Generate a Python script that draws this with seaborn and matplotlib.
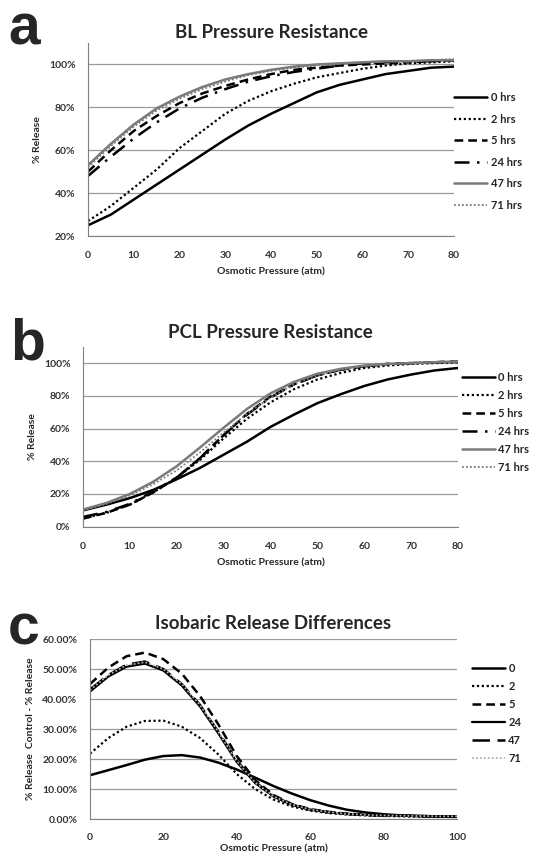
import numpy as np
import pandas as pd
import matplotlib
matplotlib.use("Agg")
import matplotlib.pyplot as plt
from matplotlib.ticker import FuncFormatter, MultipleLocator
import seaborn as sns

# ---------------- data ----------------
x_ab = [0, 5, 10, 15, 20, 25, 30, 35, 40, 45, 50, 55, 60, 65, 70, 75, 80]
x_c = [0, 5, 10, 15, 20, 25, 30, 35, 40, 45, 50, 55, 60, 65, 70, 75, 80, 85, 90, 95, 100]

labels_ab = ["0 hrs", "2 hrs", "5 hrs", "24 hrs", "47 hrs", "71 hrs"]
labels_c = ["0", "2", "5", "24", "47", "71"]

bl_0 = [25, 30, 37, 44, 51, 58, 65, 71.5, 77, 82, 87, 90.5, 93, 95.5, 97, 98.5, 99]
bl_2 = [27, 34, 42.5, 51, 61, 69, 77, 83, 87.5, 91, 94, 96, 98, 99.5, 100.5, 101, 101.5]
bl_5 = [50, 60, 69, 76, 82, 86.5, 90, 93, 95.5, 97.5, 98.5, 99.5, 100, 100.5, 101, 101.5, 102]
bl_24 = [48, 57, 65.5, 73, 79.5, 84.5, 88.5, 92, 94.5, 96.5, 98, 99.5, 100.5, 101, 101.5, 101.5, 102]
bl_47 = [53, 63, 72, 79.5, 85, 89.5, 93, 95.5, 97.5, 99, 100, 100.5, 101, 101.5, 101.5, 102, 102]
bl_71 = [52, 62, 71, 78.5, 84, 88.5, 92, 95, 97, 98.5, 99.5, 100.5, 101, 101.5, 101.5, 102, 102.5]

pcl_0 = [10, 13.5, 17.5, 22.5, 29, 36, 44, 52, 61, 68.5, 75.5, 81, 86, 90, 93, 95.5, 97]
pcl_2 = [5, 8.5, 13.5, 21, 30, 41, 54, 66, 76, 84, 90, 94, 97, 98.5, 99.5, 100, 100.5]
pcl_5 = [5, 8.5, 13.5, 21, 30, 42, 56, 69, 79.5, 87, 92.5, 96, 98, 99.5, 100, 100.5, 101]
pcl_24 = [6, 9, 14, 21.5, 30, 42, 56, 68.5, 79, 87, 92.5, 96, 98, 99.5, 100, 100.5, 101]
pcl_47 = [10.5, 14.5, 20, 27.5, 37, 48.5, 60.5, 72, 81.5, 88.5, 93.5, 96.5, 98.5, 99.5, 100, 100.5, 101]
pcl_71 = [10, 14, 19, 26, 34.5, 45.5, 57.5, 69, 79, 87, 92.5, 96, 98, 99.5, 100, 100.5, 101]

iso_0 = [14.6, 16.3, 18, 19.8, 21, 21.3, 20.5, 18.8, 16.5, 13.8, 11, 8.5, 6.3, 4.5, 3.1, 2.2, 1.6, 1.2, 1.0, 0.8, 0.7]
iso_2 = [21.8, 27, 30.8, 32.7, 32.8, 30.8, 27, 21.5, 15, 10, 6.5, 4.2, 2.8, 2, 1.5, 1.2, 1, 0.9, 0.8, 0.7, 0.7]
iso_5 = [45, 50.5, 54.3, 55.5, 53.3, 48.5, 41, 31.5, 21, 13, 8, 5, 3.3, 2.4, 1.8, 1.4, 1.2, 1.1, 1.0, 0.9, 0.9]
iso_24 = [42.5, 47.5, 50.8, 51.8, 49.5, 44.5, 37.5, 28.5, 19, 12, 7.5, 4.7, 3.1, 2.2, 1.7, 1.4, 1.2, 1.1, 1.0, 0.9, 0.9]
iso_47 = [43.2, 48, 51.5, 52.5, 50, 45, 38, 29, 19.5, 12.3, 7.7, 4.8, 3.2, 2.3, 1.7, 1.4, 1.2, 1.1, 1.0, 0.9, 0.9]
iso_71 = [43, 48, 51.3, 52.3, 50, 45, 38, 29, 19.3, 12.2, 7.6, 4.8, 3.2, 2.3, 1.7, 1.4, 1.2, 1.1, 1.0, 0.9, 0.9]

# ---------------- style ----------------
sns.set_style("white")
plt.rcParams['font.family'] = ['Lato', 'DejaVu Sans']

DOT = (0, (1, 1.2))
DASH = (0, (3.5, 2))
LDD = (0, (6, 3, 1, 3))
LONG = (0, (7, 3))

styles_ab = [
    dict(color="black", lw=1.8, ls="-"),
    dict(color="black", lw=1.6, ls=DOT),
    dict(color="black", lw=1.8, ls=DASH),
    dict(color="black", lw=1.8, ls=LDD),
    dict(color="#7a7a7a", lw=1.8, ls="-"),
    dict(color="#7a7a7a", lw=1.3, ls=DOT),
]
styles_c = [
    dict(color="black", lw=1.8, ls="-"),
    dict(color="black", lw=1.6, ls=DOT),
    dict(color="black", lw=1.8, ls=DASH),
    dict(color="black", lw=1.6, ls="-"),
    dict(color="black", lw=1.8, ls=LONG),
    dict(color="#b0b0b0", lw=1.3, ls=DOT),
]

fig = plt.figure(figsize=(5.45, 8.57), dpi=100)


def draw(ax, x, series, labels, styles, title, ylabel, xstep, ymin, ymax, ystep, fmt,
         title_pad, leg_x, leg_y, leg_spacing, xpad=8, xlabelpad=5):
    for y, lab, st in zip(series, labels, styles):
        sns.lineplot(x=x, y=y, ax=ax, color=st["color"], linewidth=st["lw"],
                     linestyle=st["ls"], label=lab, legend=False)
    ax.set_xlim(x[0], x[-1])
    ax.set_ylim(ymin, ymax)
    ax.xaxis.set_major_locator(MultipleLocator(xstep))
    ax.set_yticks(np.arange(ymin, ymax + 0.001, ystep))
    ax.yaxis.set_major_formatter(FuncFormatter(fmt))
    ax.grid(axis="y", color="#9a9a9a", lw=0.9)
    ax.grid(axis="x", visible=False)
    for s in ["top", "right"]:
        ax.spines[s].set_visible(False)
    ax.spines["left"].set_color("#808080")
    ax.spines["bottom"].set_color("#808080")
    ax.tick_params(axis="both", which="major", direction="out", length=3, width=0.8,
                   color="#808080", labelsize=7.5, labelcolor="#333333")
    ax.tick_params(axis="x", pad=xpad)
    ax.tick_params(axis="y", pad=6)
    for t in ax.get_xticklabels() + ax.get_yticklabels():
        t.set_fontweight("bold")
    ax.set_title(title, fontsize=13.5, fontweight="bold", pad=title_pad)
    ax.set_xlabel("Osmotic Pressure (atm)", fontsize=7.5, fontweight="bold", labelpad=xlabelpad)
    ax.set_ylabel(ylabel, fontsize=7.5, fontweight="bold", labelpad=5)
    handles = ax.get_lines()[:len(labels)]
    leg = ax.legend(handles, labels, loc="center left", bbox_to_anchor=(leg_x, leg_y),
                    frameon=False, fontsize=8, handlelength=3.0, handletextpad=0.3,
                    labelspacing=leg_spacing, borderaxespad=0, borderpad=0)
    for t in leg.get_texts():
        t.set_fontweight("bold")


ax_a = fig.add_axes([0.1615, 0.7246, 0.6716, 0.2252])
draw(ax_a, x_ab, [bl_0, bl_2, bl_5, bl_24, bl_47, bl_71], labels_ab, styles_ab,
     "BL Pressure Resistance", "% Release", 10, 20, 110, 20,
     lambda v, p: f"{v:.0f}%", 3.5, 1.0, 0.438, 0.95)

ax_b = fig.add_axes([0.1523, 0.3854, 0.688, 0.21])
draw(ax_b, x_ab, [pcl_0, pcl_2, pcl_5, pcl_24, pcl_47, pcl_71], labels_ab, styles_ab,
     "PCL Pressure Resistance", "% Release", 10, 0, 110, 20,
     lambda v, p: f"{v:.0f}%", 6, 1.01, 0.579, 0.62)

ax_c = fig.add_axes([0.1651, 0.0443, 0.6734, 0.21])
draw(ax_c, x_c, [iso_0, iso_2, iso_5, iso_24, iso_47, iso_71], labels_c, styles_c,
     "Isobaric Release Differences", "% Release  Control - % Release", 20, 0, 60, 10,
     lambda v, p: f"{v:.2f}%", 7, 1.04, 0.586, 0.62, xpad=7, xlabelpad=2)

for letter, xx, yy in [("a", 0.015, 0.9475), ("b", 0.018, 0.58), ("c", 0.015, 0.2474)]:
    fig.text(xx, yy, letter, fontsize=41, fontweight="bold", family="Liberation Sans",
             va="baseline", ha="left")

fig.savefig("out.png", dpi=100)
